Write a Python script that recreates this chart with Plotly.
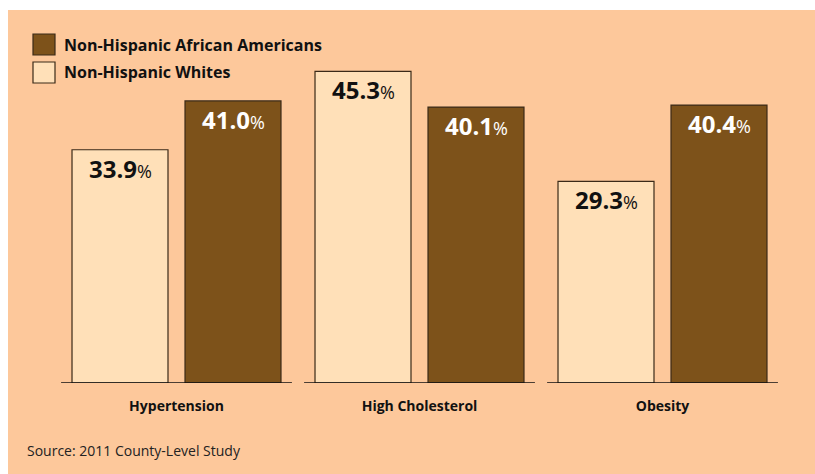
import plotly.graph_objects as go

categories = ["Hypertension", "High Cholesterol", "Obesity"]
whites = [33.9, 45.3, 29.3]
african_americans = [41.0, 40.1, 40.4]
series_names = ["Non-Hispanic African Americans", "Non-Hispanic Whites"]
source_text = "Source: 2011 County-Level Study"

W, H = 815, 474
ML, MR, MT, MB = 55, 31, 39, 91
PW, PH = W - ML - MR, H - MT - MB

PEACH = "#FDC89B"
LIGHT = "#FFE0B8"
DARK = "#7D521A"
EDGE = "#3B2A18"
FONT = "Open Sans"

bar_w = 0.395
off_white = -0.43
off_dark = 0.035

xs = list(range(len(categories)))

fig = go.Figure()
fig.add_trace(go.Bar(x=xs, y=whites, name=series_names[1], width=bar_w, offset=off_white,
                     marker=dict(color=LIGHT, line=dict(color=EDGE, width=1.2)),
                     showlegend=False, hoverinfo="y"))
fig.add_trace(go.Bar(x=xs, y=african_americans, name=series_names[0], width=bar_w, offset=off_dark,
                     marker=dict(color=DARK, line=dict(color=EDGE, width=1.2)),
                     showlegend=False, hoverinfo="y"))

# value labels
for vals, off, col in [(whites, off_white, "#111111"), (african_americans, off_dark, "#FFFFFF")]:
    for i, v in zip(xs, vals):
        fig.add_annotation(x=i + off + bar_w / 2, y=v, xref="x", yref="y",
                           text=f"<b>{v:.1f}</b><span style='font-size:18px'>%</span>",
                           showarrow=False, yanchor="top", yshift=0,
                           font=dict(family=FONT, size=24, color=col))

# baseline segments per group
for i in xs:
    fig.add_shape(type="line", xref="x", yref="y", x0=i - 0.475, x1=i + 0.475, y0=0, y1=0,
                  line=dict(color="#111111", width=1.5), layer="above")

def px_x(p):
    return (p - ML) / PW

def px_y(p):
    return (H - MB - p) / PH

# peach background panel
fig.add_shape(type="rect", xref="paper", yref="paper", x0=px_x(8), x1=px_x(W + 5),
              y0=px_y(H + 5), y1=px_y(10), fillcolor=PEACH, line=dict(width=0), layer="below")

# manual legend
for k, (name, col) in enumerate([(series_names[0], DARK), (series_names[1], LIGHT)]):
    top = 34 + k * 28
    fig.add_shape(type="rect", xref="paper", yref="paper", x0=px_x(33), x1=px_x(55),
                  y0=px_y(top + 21), y1=px_y(top), fillcolor=col,
                  line=dict(color=EDGE, width=1.2))
    fig.add_annotation(xref="paper", yref="paper", x=px_x(62), y=px_y(top + 10.5),
                       text=f"<b>{name}</b>", showarrow=False, xanchor="left", yanchor="middle",
                       font=dict(family=FONT, size=16, color="#111111"))

fig.add_annotation(xref="paper", yref="paper", x=px_x(25), y=px_y(451), text=source_text,
                   showarrow=False, xanchor="left", yanchor="middle",
                   font=dict(family=FONT, size=14, color="#222222"))

fig.update_layout(
    width=W, height=H,
    margin=dict(l=ML, r=MR, t=MT, b=MB),
    paper_bgcolor="#FFFFFF", plot_bgcolor="rgba(0,0,0,0)",
    barmode="group",
    xaxis=dict(range=[-0.5, len(categories) - 0.5], tickvals=xs,
               ticktext=[f"<b>{c}</b>" for c in categories],
               showgrid=False, zeroline=False, showline=False, ticks="",
               ticklabelstandoff=13,
               tickfont=dict(family=FONT, size=14, color="#111111")),
    yaxis=dict(range=[0, 50], visible=False, showgrid=False, zeroline=False),
    showlegend=False,
)

fig.write_html("out.html")
